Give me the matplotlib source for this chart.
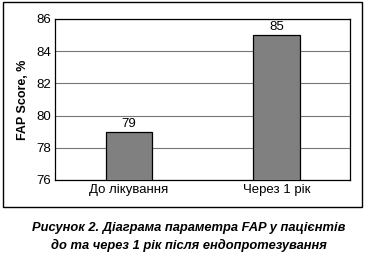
import matplotlib.pyplot as plt
from matplotlib.patches import Rectangle

plt.rcParams['font.family'] = ['Liberation Sans', 'DejaVu Sans']

categories = ["До лікування", "Через 1 рік"]
fap_values = [79, 85]
y_ticks = [76, 78, 80, 82, 84, 86]

fig = plt.figure(figsize=(3.67, 2.6), dpi=100)
ax = fig.add_axes([0.150, 0.308, 0.804, 0.619])

# outer frame round the chart
fig.patches.append(Rectangle((0.008, 0.204), 0.978, 0.788, transform=fig.transFigure,
                             fill=False, edgecolor="black", linewidth=1.0))

x = range(len(categories))
bars = ax.bar(x, fap_values, width=0.315, color="#808080", edgecolor="black",
              linewidth=0.9, zorder=3)
for b, v in zip(bars, fap_values):
    ax.text(b.get_x() + b.get_width() / 2, v + 0.12, str(v), ha="center", va="bottom",
            fontsize=9.5)

ax.set_ylim(76, 86)
ax.set_xlim(-0.5, 1.5)
ax.set_yticks(y_ticks)
ax.set_xticks(list(x))
ax.set_xticklabels(categories)
ax.tick_params(axis="both", length=0, labelsize=9.5, pad=3)
ax.yaxis.grid(True, color="#777777", linewidth=0.8, zorder=0)
ax.set_axisbelow(True)
for s in ax.spines.values():
    s.set_linewidth(0.9)
ax.set_ylabel("FAP Score, %", fontsize=9, fontweight="bold", labelpad=5)

fig.text(0.515, 0.125, "Рисунок 2. Діаграма параметра FAP у пацієнтів",
         ha="center", va="center", fontsize=9.3, fontweight="bold", style="italic")
fig.text(0.515, 0.057, "до та через 1 рік після ендопротезування",
         ha="center", va="center", fontsize=9.3, fontweight="bold", style="italic")

fig.savefig("out.png", dpi=100)
